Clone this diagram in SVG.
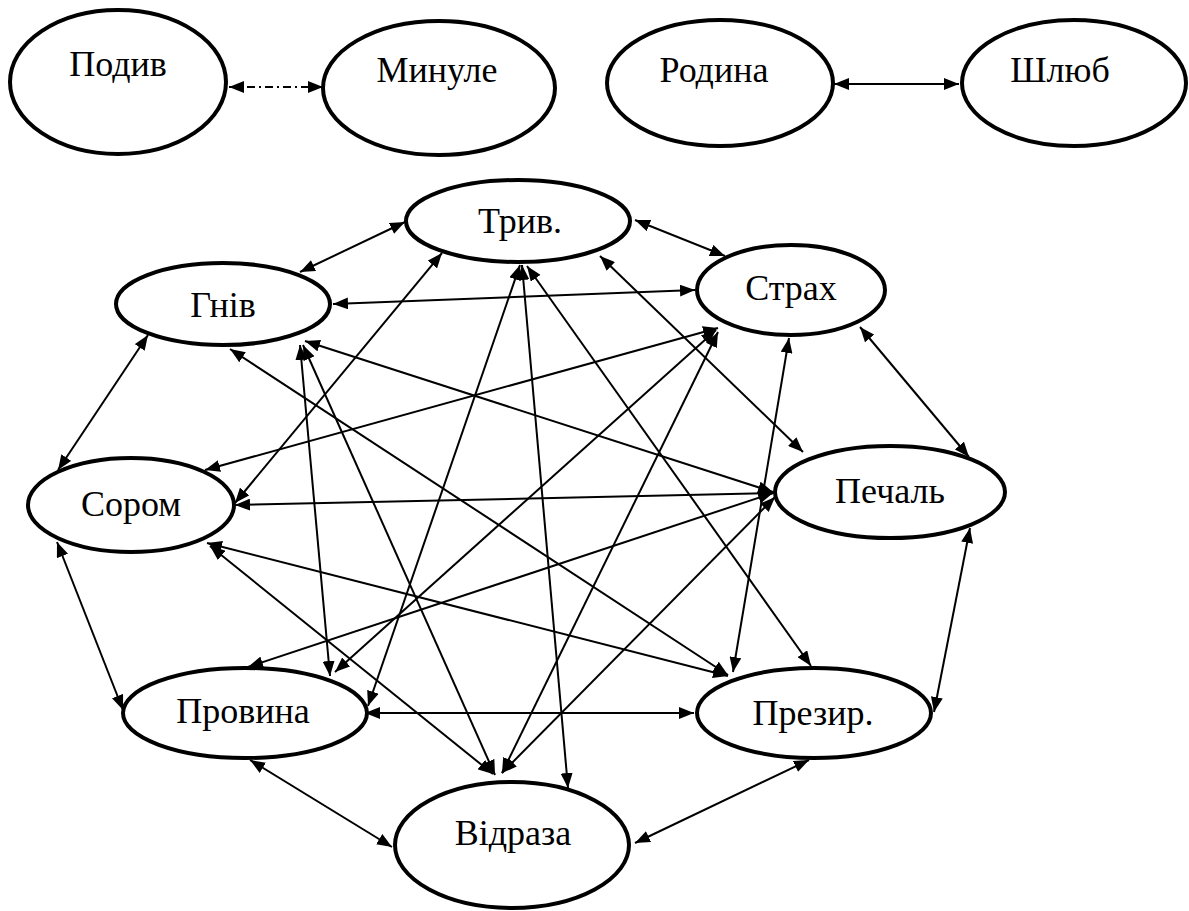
<svg xmlns="http://www.w3.org/2000/svg" width="1189" height="911" viewBox="0 0 1189 911">
<defs>
<marker id="ah" markerUnits="userSpaceOnUse" markerWidth="15" markerHeight="12" refX="15" refY="6" orient="auto-start-reverse">
<path d="M0,0 L15,6 L0,12 z" fill="#000"/>
</marker>
<style>
.n ellipse{fill:#fff;stroke:#000;stroke-width:4}
.n text{font-size:36px;fill:#000;text-anchor:middle}
.c line{stroke:#000;stroke-width:2;marker-start:url(#ah);marker-end:url(#ah)}
.c line.dd{stroke-dasharray:8 4 2 4}
</style>
</defs>
<rect width="1189" height="911" fill="#fff"/>
<g class="c">
<line class="dd" x1="229" y1="87" x2="323" y2="87"/>
<line x1="834" y1="84" x2="959" y2="84"/>
<line x1="300" y1="272" x2="405" y2="222"/>
<line x1="635" y1="220" x2="725" y2="256"/>
<line x1="333" y1="304" x2="695" y2="290"/>
<line x1="148" y1="335" x2="58" y2="470"/>
<line x1="860" y1="327" x2="969" y2="457"/>
<line x1="57" y1="542" x2="123" y2="710"/>
<line x1="970" y1="528" x2="934" y2="712"/>
<line x1="250" y1="760" x2="392" y2="847"/>
<line x1="809" y1="760" x2="635" y2="843"/>
<line x1="365" y1="713" x2="694" y2="713"/>
<line x1="442" y1="253" x2="235" y2="503"/>
<line x1="775" y1="493" x2="235" y2="505"/>
<line x1="718" y1="328" x2="205" y2="470"/>
<line x1="305" y1="341" x2="773" y2="492"/>
<line x1="230" y1="349" x2="728" y2="675"/>
<line x1="300" y1="345" x2="330" y2="676"/>
<line x1="303" y1="345" x2="495" y2="775"/>
<line x1="520" y1="265" x2="368" y2="706"/>
<line x1="522" y1="265" x2="568" y2="788"/>
<line x1="527" y1="266" x2="811" y2="666"/>
<line x1="600" y1="256" x2="803" y2="452"/>
<line x1="789" y1="338" x2="733" y2="672"/>
<line x1="716" y1="330" x2="335" y2="672"/>
<line x1="718" y1="332" x2="502" y2="773"/>
<line x1="773" y1="493" x2="248" y2="667"/>
<line x1="775" y1="497" x2="502" y2="773"/>
<line x1="207" y1="543" x2="728" y2="676"/>
<line x1="210" y1="546" x2="493" y2="774"/>
</g>
<g font-family="Liberation Serif, Times New Roman, DejaVu Serif, serif">
<g id="podyv" class="n"><ellipse cx="118" cy="82" rx="108" ry="72"/><text x="118" y="76">Подив</text></g>
<g id="mynule" class="n"><ellipse cx="439" cy="88" rx="116" ry="67"/><text x="437" y="82">Минуле</text></g>
<g id="rodyna" class="n"><ellipse cx="720" cy="83" rx="113" ry="63"/><text x="714" y="82">Родина</text></g>
<g id="shlyub" class="n"><ellipse cx="1074" cy="83" rx="112" ry="63"/><text x="1060" y="82">Шлюб</text></g>
<g id="tryv" class="n"><ellipse cx="518" cy="221" rx="112" ry="41"/><text x="520" y="233">Трив.</text></g>
<g id="gniv" class="n"><ellipse cx="223" cy="304" rx="107" ry="41"/><text x="223" y="317">Гнів</text></g>
<g id="strakh" class="n"><ellipse cx="791" cy="290" rx="94" ry="45"/><text x="791" y="300">Страх</text></g>
<g id="sorom" class="n"><ellipse cx="131" cy="505" rx="103" ry="47"/><text x="131" y="516">Сором</text></g>
<g id="pechal" class="n"><ellipse cx="890" cy="492" rx="115" ry="46"/><text x="890" y="503">Печаль</text></g>
<g id="provyna" class="n"><ellipse cx="245" cy="713" rx="122" ry="45"/><text x="243" y="723">Провина</text></g>
<g id="prezyr" class="n"><ellipse cx="814" cy="713" rx="117" ry="45"/><text x="813" y="725">Презир.</text></g>
<g id="vidraza" class="n"><ellipse cx="512" cy="845" rx="117" ry="63"/><text x="513" y="845">Відраза</text></g>
</g>
</svg>
